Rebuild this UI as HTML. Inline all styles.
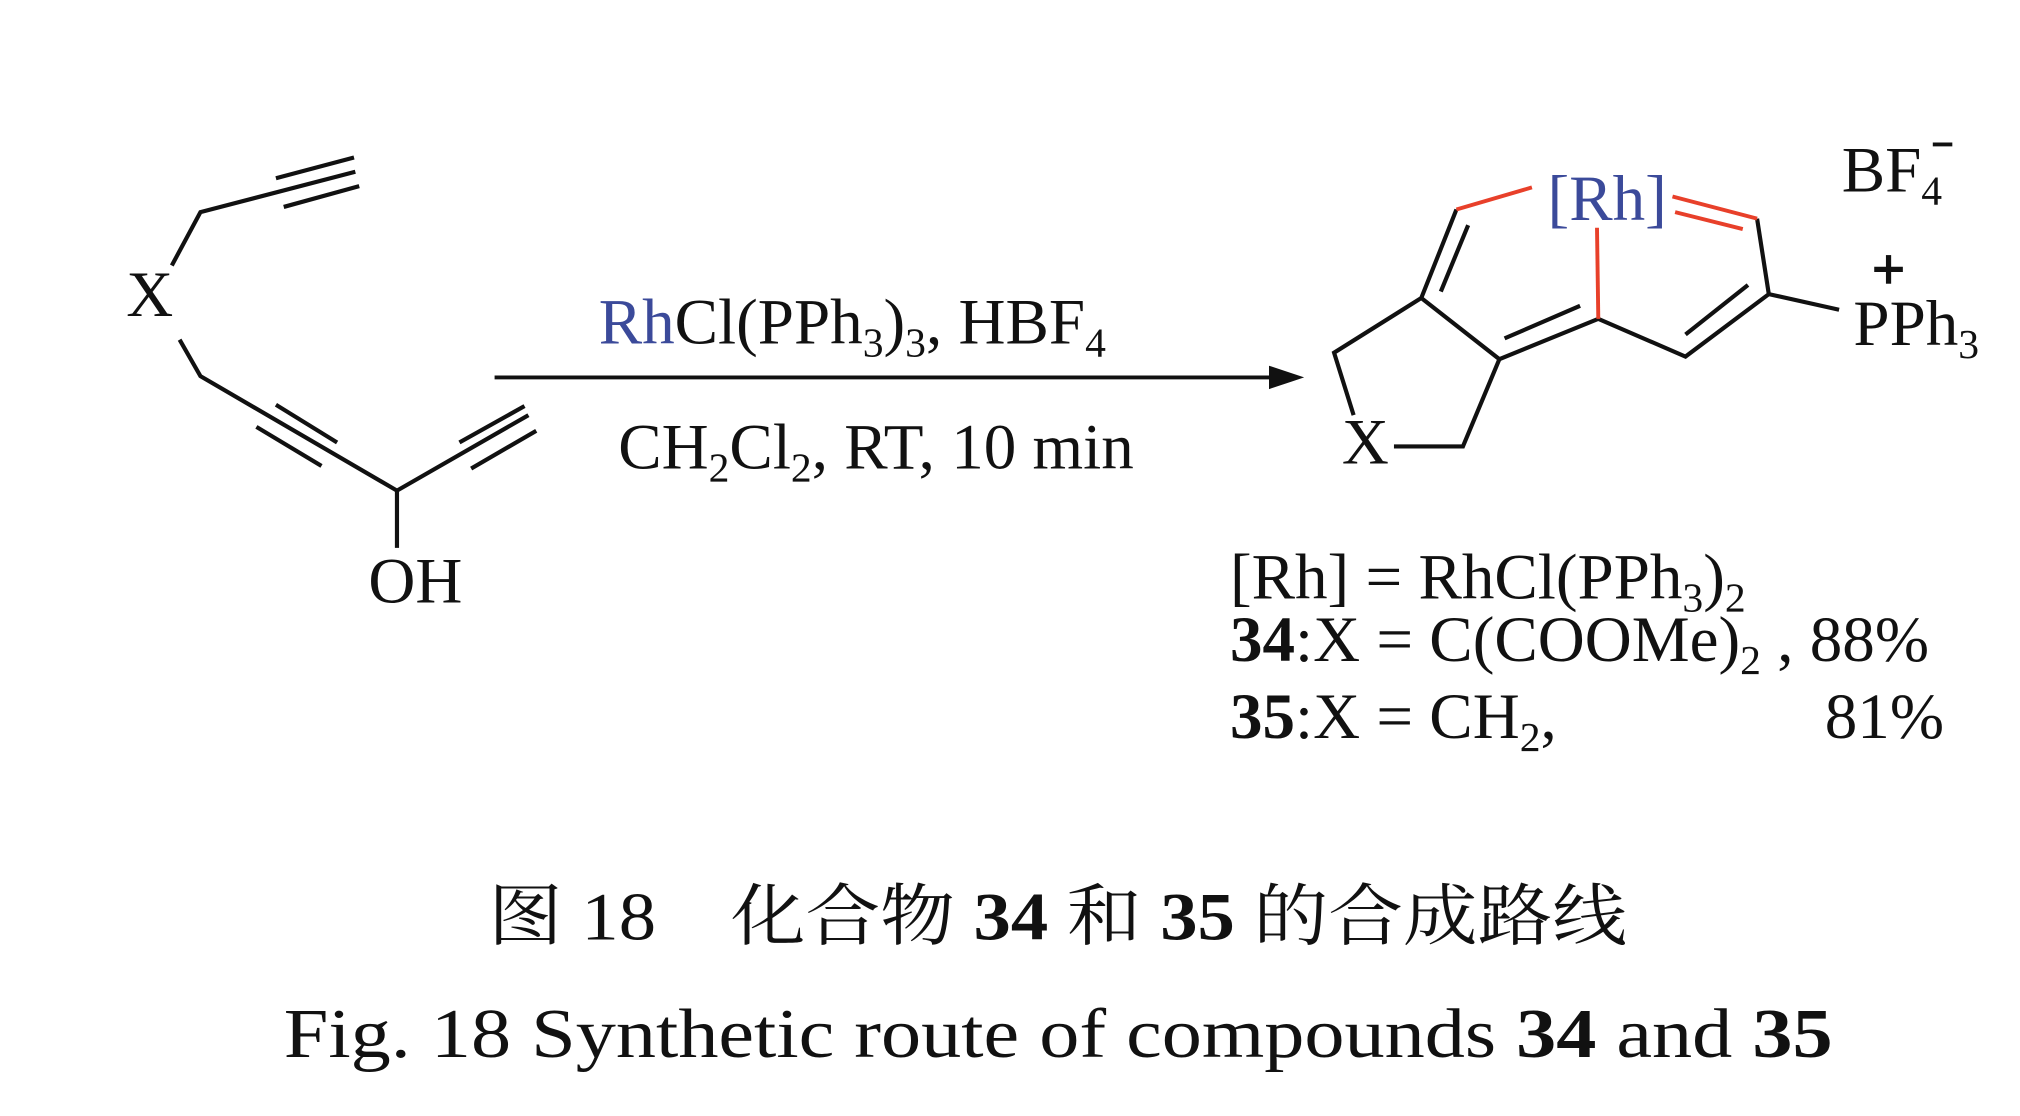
<!DOCTYPE html>
<html><head><meta charset="utf-8"><style>
html,body{margin:0;padding:0;background:#fff;}
svg{display:block;}
text{font-family:"Liberation Serif","Noto Serif CJK SC",serif;fill:#111;}
</style></head><body>
<svg width="2020" height="1116" viewBox="0 0 1552 857.5" preserveAspectRatio="none" xmlns="http://www.w3.org/2000/svg">
<g stroke="#111" stroke-width="3.2" fill="none" stroke-linecap="butt">
<polyline points="132,204 154,163 273,132"/>
<line x1="212" y1="137" x2="272" y2="121"/>
<line x1="218" y1="159" x2="276" y2="143"/>
<polyline points="138,261 154,289 305,377 406,319"/>
<line x1="212" y1="311" x2="259" y2="340"/>
<line x1="197" y1="328" x2="247" y2="358"/>
<line x1="353" y1="340" x2="403" y2="312"/>
<line x1="362" y1="360" x2="412" y2="331"/>
<line x1="305" y1="377" x2="305" y2="421"/>
<line x1="380" y1="290" x2="980" y2="290" stroke-width="3"/>
<polyline points="1119,161 1092,229 1025,271 1040,319"/>
<line x1="1128" y1="173" x2="1107" y2="224"/>
<polyline points="1071,343 1124,343 1152,276 1092,229"/>
<polyline points="1152,276 1228,245 1295,274 1359,226 1350,168"/>
<line x1="1156" y1="260" x2="1214" y2="235"/>
<line x1="1295" y1="257" x2="1343" y2="219"/>
<line x1="1359" y1="226" x2="1413" y2="238"/>
</g>
<polygon points="1002,290 975,281 975,299" fill="#111"/>
<g stroke="#e8402a" stroke-width="3" fill="none">
<line x1="1177" y1="144" x2="1119" y2="161"/>
<line x1="1227" y1="175" x2="1228" y2="245"/>
<line x1="1285" y1="151" x2="1350" y2="168"/>
<line x1="1287" y1="163" x2="1339" y2="176"/>
</g>
<g font-size="50">
<text x="97" y="243">X</text>
<text x="283" y="463">OH</text>
<text x="460" y="264"><tspan fill="#3b4a9a">Rh</tspan>Cl(PPh<tspan font-size="32" dy="10">3</tspan><tspan dy="-10">)</tspan><tspan font-size="32" dy="10">3</tspan><tspan dy="-10">, HBF</tspan><tspan font-size="32" dy="10">4</tspan></text>
<text x="475" y="360">CH<tspan font-size="32" dy="10">2</tspan><tspan dy="-10">Cl</tspan><tspan font-size="32" dy="10">2</tspan><tspan dy="-10">, RT, 10 min</tspan></text>
<text x="1189" y="169" style="fill:#3b4a9a">[Rh]</text>
<text x="1031" y="356">X</text>
<text x="1415" y="147">BF<tspan font-size="32" dy="10">4</tspan></text>
<text x="1424" y="265">PPh<tspan font-size="32" dy="10">3</tspan></text>
<text x="945" y="460">[Rh] = RhCl(PPh<tspan font-size="32" dy="10">3</tspan><tspan dy="-10">)</tspan><tspan font-size="32" dy="10">2</tspan></text>
<text x="945" y="508"><tspan font-weight="bold">34</tspan>:X = C(COOMe)<tspan font-size="32" dy="10">2</tspan><tspan dy="-10"> , 88%</tspan></text>
<text x="945" y="567"><tspan font-weight="bold">35</tspan>:X = CH<tspan font-size="32" dy="10">2</tspan><tspan dy="-10">,</tspan></text>
<text x="1402" y="567">81%</text>
</g>
<line x1="1485" y1="111" x2="1500" y2="111" stroke="#111" stroke-width="3"/>
<line x1="1440" y1="207" x2="1462" y2="207" stroke="#111" stroke-width="4"/>
<line x1="1451" y1="196" x2="1451" y2="218" stroke="#111" stroke-width="4"/>
<text x="375" y="722" font-size="52" textLength="875" lengthAdjust="spacingAndGlyphs">图 18　化合物 <tspan font-weight="bold">34</tspan> 和 <tspan font-weight="bold">35</tspan> 的合成路线</text>
<text x="218" y="812" font-size="54" textLength="1190" lengthAdjust="spacingAndGlyphs">Fig. 18   Synthetic route of compounds <tspan font-weight="bold">34</tspan> and <tspan font-weight="bold">35</tspan></text>
</svg>
</body></html>
